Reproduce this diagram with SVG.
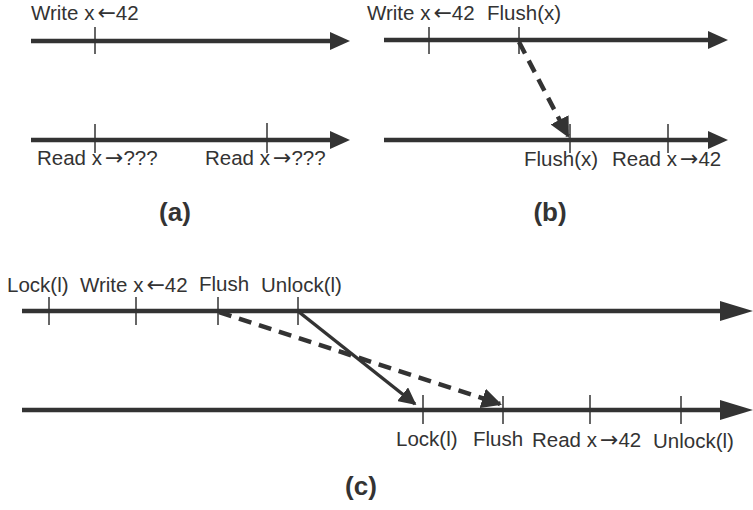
<svg xmlns="http://www.w3.org/2000/svg" width="753" height="510" viewBox="0 0 753 510">
<defs>
<style>
.tl{stroke:#333;stroke-width:4.5;fill:none}
.ah{fill:#333}
.tk{stroke:#333;stroke-width:1.5}
.t{font-family:"Liberation Sans",Arial,sans-serif;font-size:20.5px;fill:#333}
.ar{font-family:"DejaVu Sans",sans-serif;font-size:22px}
.cap{font-family:"Liberation Sans",Arial,sans-serif;font-size:26px;font-weight:bold;fill:#333;text-anchor:middle}
.dash{stroke:#333;stroke-width:4.5;fill:none;stroke-dasharray:13 8}
.sol{stroke:#333;stroke-width:3.5;fill:none}
</style>
<marker id="arr" viewBox="0 0 10 10" refX="9" refY="5" markerWidth="5" markerHeight="5" orient="auto" markerUnits="strokeWidth">
<path d="M0,0 L10,5 L0,10 z" fill="#333"/>
</marker>
<marker id="arr2" viewBox="0 0 10 10" refX="9" refY="5" markerWidth="4.5" markerHeight="4.5" orient="auto" markerUnits="strokeWidth">
<path d="M0,0 L10,5 L0,10 z" fill="#333"/>
</marker>
</defs>

<g id="timelines">
<g id="a-top"><line class="tl" x1="31" y1="41" x2="333" y2="41"/><polygon class="ah" points="330,32 350,41 330,50"/></g>
<g id="a-bot"><line class="tl" x1="31" y1="140" x2="333" y2="140"/><polygon class="ah" points="330,131 350,140 330,149"/></g>
<g id="b-top"><line class="tl" x1="384" y1="40" x2="711" y2="40"/><polygon class="ah" points="708,31 728,40 708,49"/></g>
<g id="b-bot"><line class="tl" x1="384" y1="140" x2="711" y2="140"/><polygon class="ah" points="708,131 728,140 708,149"/></g>
<g id="c-top"><line class="tl" x1="22" y1="311" x2="722" y2="311"/><polygon class="ah" points="720,301 753,311 720,321"/></g>
<g id="c-bot"><line class="tl" x1="22" y1="410" x2="722" y2="410"/><polygon class="ah" points="720,400 753,410 720,420"/></g>
</g>

<g id="ticks">
<line class="tk" x1="95" y1="27" x2="95" y2="54"/>
<line class="tk" x1="95" y1="124" x2="95" y2="153"/>
<line class="tk" x1="267" y1="123" x2="267" y2="153"/>
<line class="tk" x1="429" y1="27" x2="429" y2="54"/>
<line class="tk" x1="519" y1="27" x2="519" y2="54"/>
<line class="tk" x1="570" y1="124" x2="570" y2="153"/>
<line class="tk" x1="668" y1="124" x2="668" y2="153"/>
<line class="tk" x1="49" y1="297" x2="49" y2="325"/>
<line class="tk" x1="136" y1="297" x2="136" y2="325"/>
<line class="tk" x1="218" y1="297" x2="218" y2="325"/>
<line class="tk" x1="298" y1="297" x2="298" y2="325"/>
<line class="tk" x1="423" y1="395" x2="423" y2="424"/>
<line class="tk" x1="503" y1="396" x2="503" y2="424"/>
<line class="tk" x1="590" y1="395" x2="590" y2="424"/>
<line class="tk" x1="681" y1="396" x2="681" y2="424"/>
</g>

<g id="connectors">
<line class="dash" x1="519" y1="42" x2="568" y2="136" marker-end="url(#arr2)"/>
<line class="sol" x1="299" y1="312" x2="415" y2="404" marker-end="url(#arr)"/>
<line class="dash" x1="219" y1="312" x2="500" y2="404" marker-end="url(#arr2)"/>
</g>

<g id="labels-a">
<text class="t" x="31" y="20">Write x<tspan class="ar" dx="3">←</tspan>42</text>
<text class="t" x="37" y="165">Read x<tspan class="ar" dx="3">→</tspan>???</text>
<text class="t" x="205" y="165">Read x<tspan class="ar" dx="3">→</tspan>???</text>
<text class="cap" x="175" y="221">(a)</text>
</g>
<g id="labels-b">
<text class="t" x="367" y="20">Write x<tspan class="ar" dx="3">←</tspan>42</text>
<text class="t" x="487" y="20">Flush(x)</text>
<text class="t" x="524" y="166">Flush(x)</text>
<text class="t" x="612" y="166">Read x<tspan class="ar" dx="3">→</tspan>42</text>
<text class="cap" x="550" y="221">(b)</text>
</g>
<g id="labels-c">
<text class="t" x="7" y="292">Lock(l)</text>
<text class="t" x="80" y="292">Write x<tspan class="ar" dx="3">←</tspan>42</text>
<text class="t" x="199" y="291">Flush</text>
<text class="t" x="261" y="292">Unlock(l)</text>
<text class="t" x="396" y="446">Lock(l)</text>
<text class="t" x="473" y="446">Flush</text>
<text class="t" x="532" y="447">Read x<tspan class="ar" dx="3">→</tspan>42</text>
<text class="t" x="653" y="448">Unlock(l)</text>
<text class="cap" x="361" y="495">(c)</text>
</g>
</svg>
